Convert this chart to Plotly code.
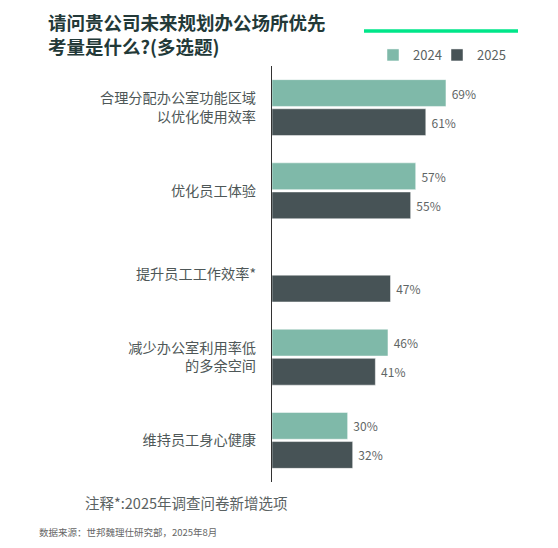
import plotly.graph_objects as go

categories = ["合理分配办公室功能区域<br>以优化使用效率", "优化员工体验", "提升员工工作效率*",
              "减少办公室利用率低<br>的多余空间", "维持员工身心健康"]
v2024 = [69, 57, None, 46, 30]
v2025 = [61, 55, 47, 41, 32]
series_names = ["2024", "2025"]

W, H = 558, 548
ML, MR, MT, MB = 272, 18, 66, 66
PW, PH = W - ML - MR, H - MT - MB

def px(x):
    return (x - ML) / PW

def py(y):
    return (H - MB - y) / PH

FONT = "Noto Sans CJK SC"
c24, c25 = "#7fb9a9", "#475356"

fig = go.Figure()
for name, vals, col, lg in [(series_names[0], v2024, c24, "legend"),
                            (series_names[1], v2025, c25, "legend2")]:
    fig.add_trace(go.Bar(
        y=categories, x=vals, name=name, orientation="h", legend=lg,
        marker=dict(color=col, line=dict(color="rgba(255,255,255,0.6)", width=0.8)),
        text=[f" {v}%" if v is not None else "" for v in vals],
        textposition="outside", cliponaxis=False,
        textfont=dict(family=FONT, size=12, color="#5f6666"),
    ))

leg_common = dict(orientation="h", xref="container", yref="container",
                  xanchor="left", yanchor="middle",
                  font=dict(family=FONT, size=13, color="#5a6262"),
                  itemwidth=30, bgcolor="rgba(0,0,0,0)")

fig.update_layout(
    width=W, height=H, margin=dict(l=ML, r=MR, t=MT, b=MB, autoexpand=False),
    paper_bgcolor="white", plot_bgcolor="white",
    barmode="group", bargap=0.3, bargroupgap=0.08,
    font=dict(family=FONT),
    showlegend=True,
    legend=dict(x=373 / W, y=1 - 55 / H, **leg_common),
    legend2=dict(x=437 / W, y=1 - 55 / H, **leg_common),
    xaxis=dict(range=[0, 106.3], showgrid=False, showticklabels=False, zeroline=False,
               showline=False, fixedrange=True, automargin=False),
    yaxis=dict(autorange="reversed", showgrid=False, showline=True, linecolor="#333",
               linewidth=1.2, ticks="", ticklabelstandoff=12, automargin=False,
               fixedrange=True,
               tickfont=dict(family=FONT, size=14.2, color="#4e5757")),
)

fig.add_shape(type="line", xref="paper", yref="paper",
              x0=px(364), x1=px(518), y0=py(31), y1=py(31),
              line=dict(color="#00e68a", width=3.5))

fig.add_annotation(xref="paper", yref="paper", x=px(46), y=py(34), xanchor="left", yanchor="middle",
                   text="<b>请问贵公司未来规划办公场所优先<br>考量是什么?(多选题)</b>",
                   align="left", showarrow=False,
                   font=dict(family=FONT, size=18.5, color="#233938"))
fig.add_annotation(xref="paper", yref="paper", x=px(83), y=py(502), xanchor="left", yanchor="middle",
                   text="注释*:2025年调查问卷新增选项", showarrow=False,
                   font=dict(family=FONT, size=14.5, color="#5a6262"))
fig.add_annotation(xref="paper", yref="paper", x=px(37), y=py(532), xanchor="left", yanchor="middle",
                   text="数据来源：世邦魏理仕研究部，2025年8月", showarrow=False,
                   font=dict(family=FONT, size=9.5, color="#666"))

fig.write_html("out.html", config={"displayModeBar": False},
               post_script="document.body.style.margin='0';")
